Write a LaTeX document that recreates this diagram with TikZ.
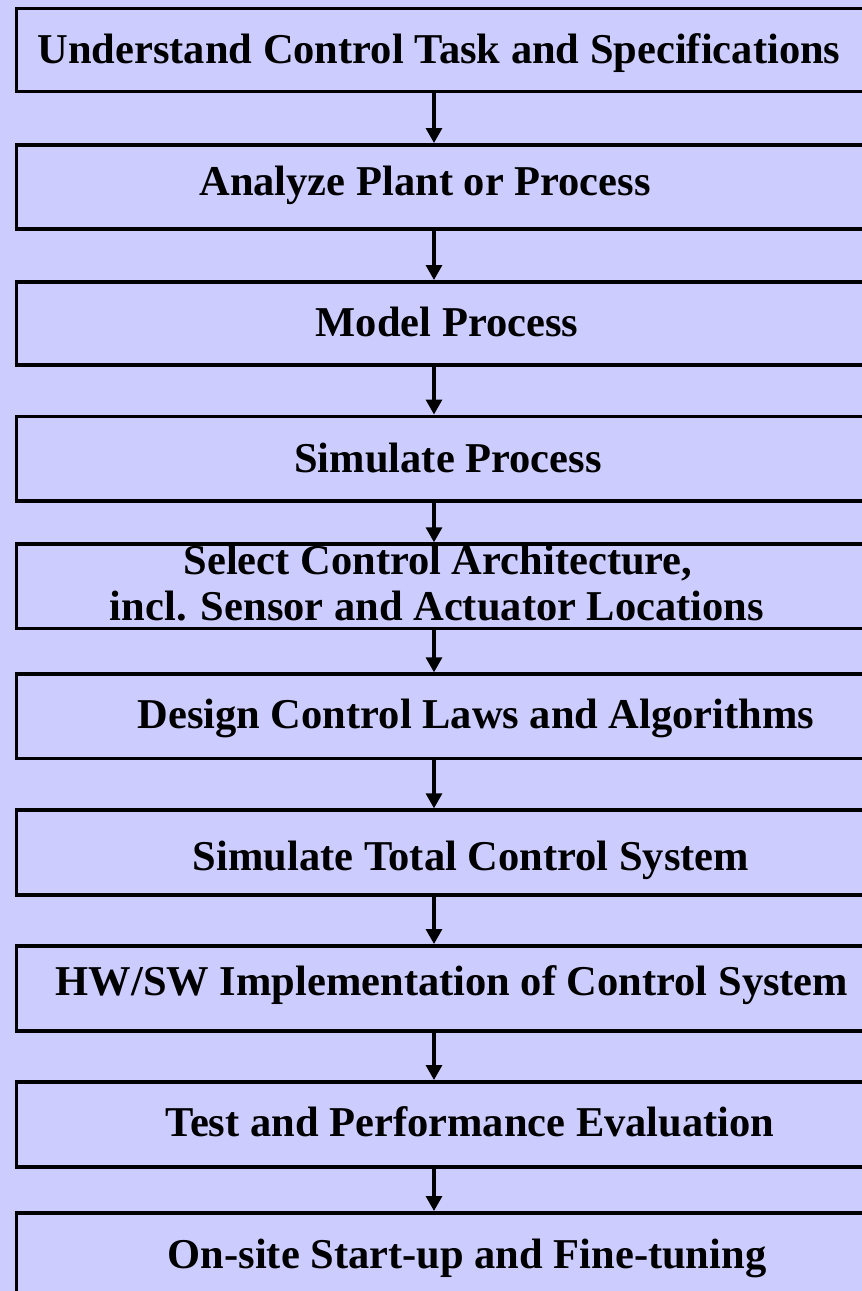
\documentclass[tikz,border=0pt]{standalone}
\usepackage{fontspec}
\setmainfont{Liberation Serif}
\usetikzlibrary{arrows.meta}
\definecolor{lav}{HTML}{CCCCFF}
\begin{document}
\begin{tikzpicture}[x=1pt,y=-1pt,
  stepbox/.style={draw=black,line width=3.6pt,fill=lav,rectangle,inner sep=0pt,anchor=north west,minimum width=930pt},
  lbl/.style={font=\fontsize{42.5}{47}\selectfont\bfseries,inner sep=0pt,anchor=base,align=center},
  arr/.style={line width=3.2pt,-{Triangle[length=15pt 0 0,width=16pt 0 0]}}]
\useasboundingbox (0,0) rectangle (862,1291);
\clip (0,0) rectangle (862,1291);
\fill[lav] (0,0) rectangle (862,1291);
\coordinate (ax) at (434,0);
% boxes
\node[stepbox,minimum height=83pt] (b1) at (14.7,6.7) {};
\node[stepbox,minimum height=84pt] (b2) at (14.7,143) {};
\node[stepbox,minimum height=83pt] (b3) at (14.7,280) {};
\node[stepbox,minimum height=84.5pt] (b4) at (14.7,414.5) {};
\node[stepbox,minimum height=84.5pt] (b5) at (14.7,542.3) {};
\node[stepbox,minimum height=84.5pt] (b6) at (14.7,672.3) {};
\node[stepbox,minimum height=85pt] (b7) at (14.7,808.3) {};
\node[stepbox,minimum height=85pt] (b8) at (14.7,944) {};
\node[stepbox,minimum height=85pt] (b9) at (14.7,1080) {};
\node[stepbox,minimum height=120pt] (b10) at (14.7,1211) {};
% labels
\node[lbl] (t1) at (439,63) {Understand Control Task and Specifications};
\node[lbl] (t2) at (425,195) {Analyze Plant or Process};
\node[lbl] (t3) at (447,336) {Model Process};
\node[lbl] (t4) at (448,472) {Simulate Process};
\node[lbl] (t5a) at (438,574) {Select Control Architecture,};
\node[lbl] (t5b) at (437,620) {incl. Sensor and Actuator Locations};
\node[lbl] (t6) at (476,728) {Design Control Laws and Algorithms};
\node[lbl] (t7) at (471,870) {Simulate Total Control System};
\node[lbl] (t8) at (452,995) {HW/SW Implementation of Control System};
\node[lbl] (t9) at (470,1136) {Test and Performance Evaluation};
\node[lbl] (t10) at (467,1268) {On-site Start-up and Fine-tuning};
% arrows
\foreach \a/\b in {b1/b2,b2/b3,b3/b4,b4/b5,b5/b6,b6/b7,b7/b8,b8/b9,b9/b10}
  \draw[arr] (\a.south -| ax) -- (\b.north -| ax);
\end{tikzpicture}
\end{document}
